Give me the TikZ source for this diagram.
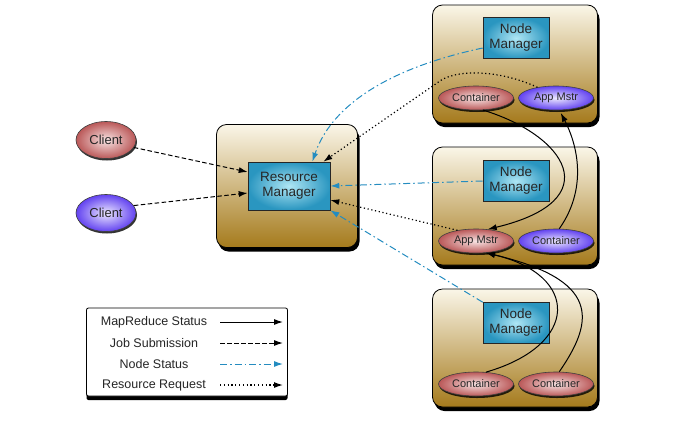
\documentclass[tikz,border=0pt]{standalone}
\usepackage{fontspec}
\setmainfont{Liberation Sans}
\usetikzlibrary{shapes.geometric,shadows,arrows.meta}
\definecolor{boxtop}{RGB}{250,246,232}
\definecolor{boxbot}{RGB}{165,122,28}
\definecolor{mgrin}{RGB}{175,230,244}
\definecolor{mgrout}{RGB}{42,150,192}
\definecolor{redout}{RGB}{186,88,88}
\definecolor{redin}{RGB}{248,228,228}
\definecolor{blueout}{RGB}{98,66,240}
\definecolor{bluein}{RGB}{236,232,255}
\definecolor{nmblue}{RGB}{36,140,192}
\tikzset{
  host/.style={draw=black, line width=0.8pt, rounded corners=10pt,
    top color=boxtop, bottom color=boxbot,
    drop shadow={shadow xshift=2pt, shadow yshift=-4pt, fill=black, opacity=1}},
  mgr/.style={draw=black!85, line width=0.6pt, inner color=mgrin, outer color=mgrout,
    align=center, font=\fontsize{13.5}{15}\selectfont, text=black!85},
  ell/.style={ellipse, draw=black!75, line width=0.6pt, inner sep=0pt,
    minimum width=75pt, minimum height=24pt, text=black!85,
    font=\fontsize{11}{12}\selectfont,
    drop shadow={shadow xshift=1pt, shadow yshift=-2pt, fill=black, opacity=0.8}},
  redell/.style={ell, inner color=redin, outer color=redout},
  blueell/.style={ell, inner color=bluein, outer color=blueout},
  client/.style={minimum width=60pt, minimum height=37pt, font=\fontsize{13}{14}\selectfont},
  status/.style={-{Latex[length=9pt,width=6pt]}, line width=1pt},
  submit/.style={status, dash pattern=on 4.5pt off 2.5pt},
  nstat/.style={status, nmblue, dash pattern=on 7pt off 3pt on 1.5pt off 3pt},
  req/.style={status, line width=1.2pt, dash pattern=on 1.2pt off 2.6pt},
}
\begin{document}
\begin{tikzpicture}[x=1pt,y=-1pt]
  \useasboundingbox (0,0) rectangle (674,426);
  % machines
  \node[host, minimum width=165pt, minimum height=118pt] (host1) at (515,64) {};
  \node[host, minimum width=165pt, minimum height=118pt] (host2) at (515,206) {};
  \node[host, minimum width=165pt, minimum height=118pt] (host3) at (515,348) {};
  \node[host, minimum width=141pt, minimum height=123pt] (rmhost) at (287,186) {};
  % managers
  \node[mgr, minimum width=82pt, minimum height=48pt] (rm) at (289,186) {Resource\\Manager};
  \node[mgr, minimum width=66pt, minimum height=41pt] (nm1) at (516,38) {Node\\Manager};
  \node[mgr, minimum width=66pt, minimum height=41pt] (nm2) at (516,181) {Node\\Manager};
  \node[mgr, minimum width=66pt, minimum height=41pt] (nm3) at (516,323) {Node\\Manager};
  % containers
  \node[redell] (cont1) at (476,98) {Container};
  \node[blueell] (am1) at (556,98) {App Mstr};
  \node[redell] (am2) at (476,241) {App Mstr};
  \node[blueell] (cont2) at (556,241) {Container};
  \node[redell] (cont3a) at (476,384) {Container};
  \node[redell] (cont3b) at (556,384) {Container};
  % clients
  \node[redell, client] (client1) at (106,140) {Client};
  \node[blueell, client] (client2) at (106,213) {Client};
  % job submission
  \draw[submit] (client1.-15) -- ([yshift=14pt]rm.west);
  \draw[submit] (client2.15) -- ([yshift=-7pt]rm.west);
  % node status
  \draw[nstat] ([yshift=-10pt]nm1.west) .. controls (380,70) and (330,110) .. ([xshift=-18pt]rm.north east);
  \draw[nstat] (nm2.west) -- (rm.east);
  \draw[nstat] (nm3.north west) -- (rm.south east);
  % resource request
  \draw[req] (am1.150) .. controls (500,70) and (455,68) .. (437,83) -- ([xshift=-7pt]rm.north east);
  \draw[req] (am2.150) -- ([yshift=-14pt]rm.east);
  % mapreduce status
  \draw[status] (cont1.-60) .. controls (565,135) and (610,200) .. (am2.45);
  \draw[status, shorten >=3pt] (cont2.75) .. controls (590,185) and (575,140) .. (am1.-75);
  \draw[status] (cont3a.50) .. controls (580,345) and (580,275) .. (am2.-50);
  \draw[status] (cont3b.75) .. controls (595,320) and (600,280) .. (am2.-50);
  % legend
  \node[draw=black, line width=0.8pt, fill=white, rounded corners=2pt,
    minimum width=201pt, minimum height=88pt,
    drop shadow={shadow xshift=0pt, shadow yshift=-4pt, fill=black, opacity=1}] (legend) at (187,352) {};
  \foreach \sty/\txt [count=\i] in {status/MapReduce Status, submit/Job Submission,
      nstat/Node Status, req/Resource Request} {
    \node[font=\fontsize{12.5}{14}\selectfont, text=black!85] (lgd\i) at (154,{301+21*\i}) {\txt};
    \coordinate (la\i) at (220,{301+21*\i});
    \coordinate (lb\i) at (283,{301+21*\i});
    \draw[\sty] (la\i) -- (lb\i);
  }
\end{tikzpicture}
\end{document}
